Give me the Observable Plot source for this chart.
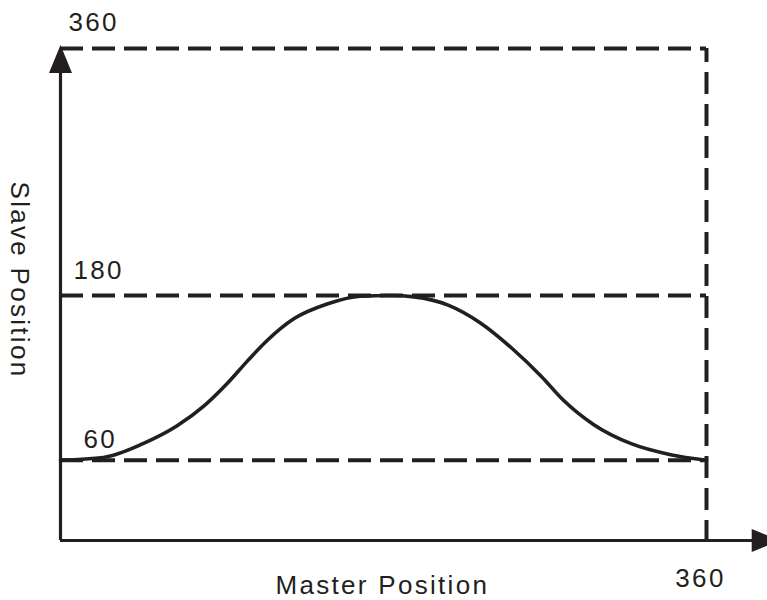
<!DOCTYPE html>
<html>
<head>
<meta charset="utf-8">
<script src="https://cdn.jsdelivr.net/npm/d3@7"></script>
<script src="https://cdn.jsdelivr.net/npm/@observablehq/plot@0.6"></script>
<style>
  html, body { margin: 0; padding: 0; background: #fff; }
  #chart svg text { letter-spacing: 2.3px; }
</style>
</head>
<body>
<div id="chart"></div>
<script>
// Cam profile
const masterX = [0, 24, 46, 65, 80, 93, 104, 115, 130, 149, 167, 184, 197, 216, 234, 252, 268, 280, 297, 318, 340, 360];
const slaveY  = [60, 62, 72, 85, 99.5, 116, 132, 147, 163, 174, 179.5, 180, 179, 173, 160, 141, 121, 104, 86, 72, 64, 60];

// Reference levels and labels
const slaveLevels = [360, 180, 60];
const slaveLabels = ["360", "180", "60"];
const masterLevels = [360];
const masterLabels = ["360"];
const xTitle = "Master Position";
const yTitle = "Slave Position";
const axisMax = 360;

const ink = "#231f20";
const curve = masterX.map((x, i) => ({x, y: slaveY[i]}));
const yLab = slaveLevels.map((v, i) => ({v, label: slaveLabels[i]}));

const tri = {
  draw(ctx) {
    ctx.moveTo(0, -14);
    ctx.lineTo(11.5, 14);
    ctx.lineTo(-11.5, 14);
    ctx.closePath();
  }
};

const chart = Plot.plot({
  width: 767,
  height: 600,
  marginLeft: 60,
  marginRight: 61,
  marginTop: 48,
  marginBottom: 58,
  x: {domain: [0, axisMax], axis: null},
  y: {domain: [0, axisMax], axis: null},
  style: {fontFamily: "'Liberation Sans', Arial, sans-serif", background: "#fff", overflow: "visible"},
  marks: [
    // dashed guides
    Plot.ruleY(slaveLevels, {x1: 0, x2: axisMax, stroke: ink, strokeWidth: 4, strokeDasharray: "23,9"}),
    Plot.ruleX(masterLevels, {y1: 0, y2: axisMax, stroke: ink, strokeWidth: 4, strokeDasharray: "22,10"}),
    // axes
    Plot.ruleX([0], {y1: 0, y2: 353, stroke: ink, strokeWidth: 3.2, dy: -2}),
    Plot.ruleY([0], {x1: 0, x2: 393, stroke: ink, strokeWidth: 3.2, dy: -2}),
    Plot.dot([{x: 0, y: 352.4}], {x: "x", y: "y", symbol: tri, fill: ink, stroke: null, r: 5}),
    Plot.dot([{x: 393, y: 0}], {x: "x", y: "y", symbol: tri, fill: ink, stroke: null, r: 5, rotate: 90, dy: -2}),
    // curve
    Plot.line(curve, {x: "x", y: "y", curve: "monotone-x", stroke: ink, strokeWidth: 3.6}),
    // y level labels
    Plot.text(yLab.filter(d => d.v === 360), {x: 0, y: "v", text: "label", textAnchor: "start", dx: 8, dy: -26, fontSize: 26, fill: ink}),
    Plot.text(yLab.filter(d => d.v === 180), {x: 0, y: "v", text: "label", textAnchor: "start", dx: 13, dy: -25, fontSize: 26, fill: ink}),
    Plot.text(yLab.filter(d => d.v === 60), {x: 0, y: "v", text: "label", textAnchor: "start", dx: 23, dy: -20, fontSize: 26, fill: ink}),
    // x level label
    Plot.text(masterLevels, {x: d => d, y: 0, text: (d, i) => masterLabels[i], textAnchor: "middle", dx: -6, dy: 36, fontSize: 26, fill: ink}),
    // axis titles
    Plot.text([xTitle], {x: 119.8, y: 0, text: d => d, textAnchor: "start", dy: 43, fontSize: 26, fill: ink}),
    Plot.text([yTitle], {x: -22.9, y: 191.3, text: d => d, textAnchor: "middle", rotate: 90, fontSize: 26, fill: ink})
  ]
});
document.getElementById("chart").appendChild(chart);
</script>
</body>
</html>
